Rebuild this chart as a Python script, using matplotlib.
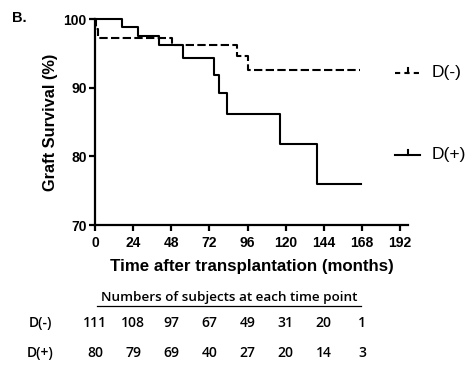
import numpy as np
import matplotlib.pyplot as plt
from matplotlib.lines import Line2D
from matplotlib.transforms import blended_transform_factory

# Kaplan-Meier steps (months, % surviving)
t_neg = [0, 0.5, 2, 48.5, 89.5, 96.5, 167]
s_neg = [100, 98.6, 97.3, 96.2, 94.6, 92.6, 92.6]
t_pos = [0, 17, 27, 40.5, 55.5, 75, 78, 83, 116.5, 139.5, 167.5]
s_pos = [100, 98.8, 97.5, 96.2, 94.4, 91.8, 89.2, 86.2, 81.8, 76.0, 76.0]

x_ticks = [0, 24, 48, 72, 96, 120, 144, 168, 192]
y_ticks = [70, 80, 90, 100]

# numbers at risk
risk_times = [0, 24, 48, 72, 96, 120, 144, 168]
n_neg = [111, 108, 97, 67, 49, 31, 20, 1]
n_pos = [80, 79, 69, 40, 27, 20, 14, 3]

fig = plt.figure(figsize=(4.68, 3.74), dpi=100)
ax = fig.add_axes([0.203, 0.398, 0.669, 0.551])

ax.step(t_neg, s_neg, where='post', color='black', lw=1.5, dashes=(4, 1.6), clip_on=False)
ax.step(t_pos, s_pos, where='post', color='black', lw=1.5, clip_on=False)

ax.set_xlim(0, 197)
ax.set_ylim(70, 100)
ax.set_xticks(x_ticks)
ax.set_yticks(y_ticks)
for sp in ['top', 'right']:
    ax.spines[sp].set_visible(False)
for sp in ['left', 'bottom']:
    ax.spines[sp].set_linewidth(1.6)
ax.tick_params(width=1.6, length=4, direction='out', pad=2)
ax.tick_params(axis='x', pad=4)
for lab in ax.get_xticklabels() + ax.get_yticklabels():
    lab.set_fontfamily('Liberation Sans')
    lab.set_fontweight('bold')
    lab.set_fontsize(10)

ax.set_xlabel('Time after transplantation (months)', fontfamily='Liberation Sans',
              fontweight='bold', fontsize=12.2, labelpad=6)
ax.set_ylabel('Graft Survival (%)', fontfamily='Liberation Sans',
              fontweight='bold', fontsize=11.8, labelpad=4)

fig.text(12 / 468, 1 - 18 / 374, 'B.', fontfamily='Liberation Sans', fontweight='bold',
         fontsize=10.5, va='center', ha='left')

# legend drawn by hand, outside the axes
for y_leg, lab, dashed in [(73, 'D(-)', True), (155, 'D(+)', False)]:
    yf = 1 - y_leg / 374
    ln = Line2D([395 / 468, 420 / 468], [yf, yf], transform=fig.transFigure,
                color='black', lw=1.5)
    if dashed:
        ln.set_dashes((2.5, 2))
    fig.add_artist(ln)
    fig.add_artist(Line2D([407.5 / 468, 407.5 / 468], [yf, yf + 5 / 374],
                          transform=fig.transFigure, color='black', lw=1.5))
    fig.text(432 / 468, yf, lab, fontfamily='Liberation Sans', fontsize=12.5,
             va='center', ha='left')

# numbers at risk table
tf = 'Open Sans'
fig.text(229 / 468, 1 - 297 / 374, 'Numbers of subjects at each time point',
         fontfamily=tf, fontweight='semibold', fontsize=9.7, ha='center', va='center')
fig.add_artist(Line2D([97 / 468, 361 / 468], [1 - 306 / 374, 1 - 306 / 374],
                      transform=fig.transFigure, color='black', lw=0.9))
col_tr = blended_transform_factory(ax.transData, fig.transFigure)
for y_row, lab, vals in [(323, 'D(-)', n_neg), (353, 'D(+)', n_pos)]:
    yf = 1 - y_row / 374
    fig.text(40 / 468, yf, lab, fontfamily=tf, fontweight='semibold', fontsize=10,
             ha='center', va='center')
    for tt, v in zip(risk_times, vals):
        ax.text(tt, yf, str(v), transform=col_tr,
                fontfamily=tf, fontweight='semibold', fontsize=10, ha='center', va='center')

fig.savefig('out.png', dpi=100)
